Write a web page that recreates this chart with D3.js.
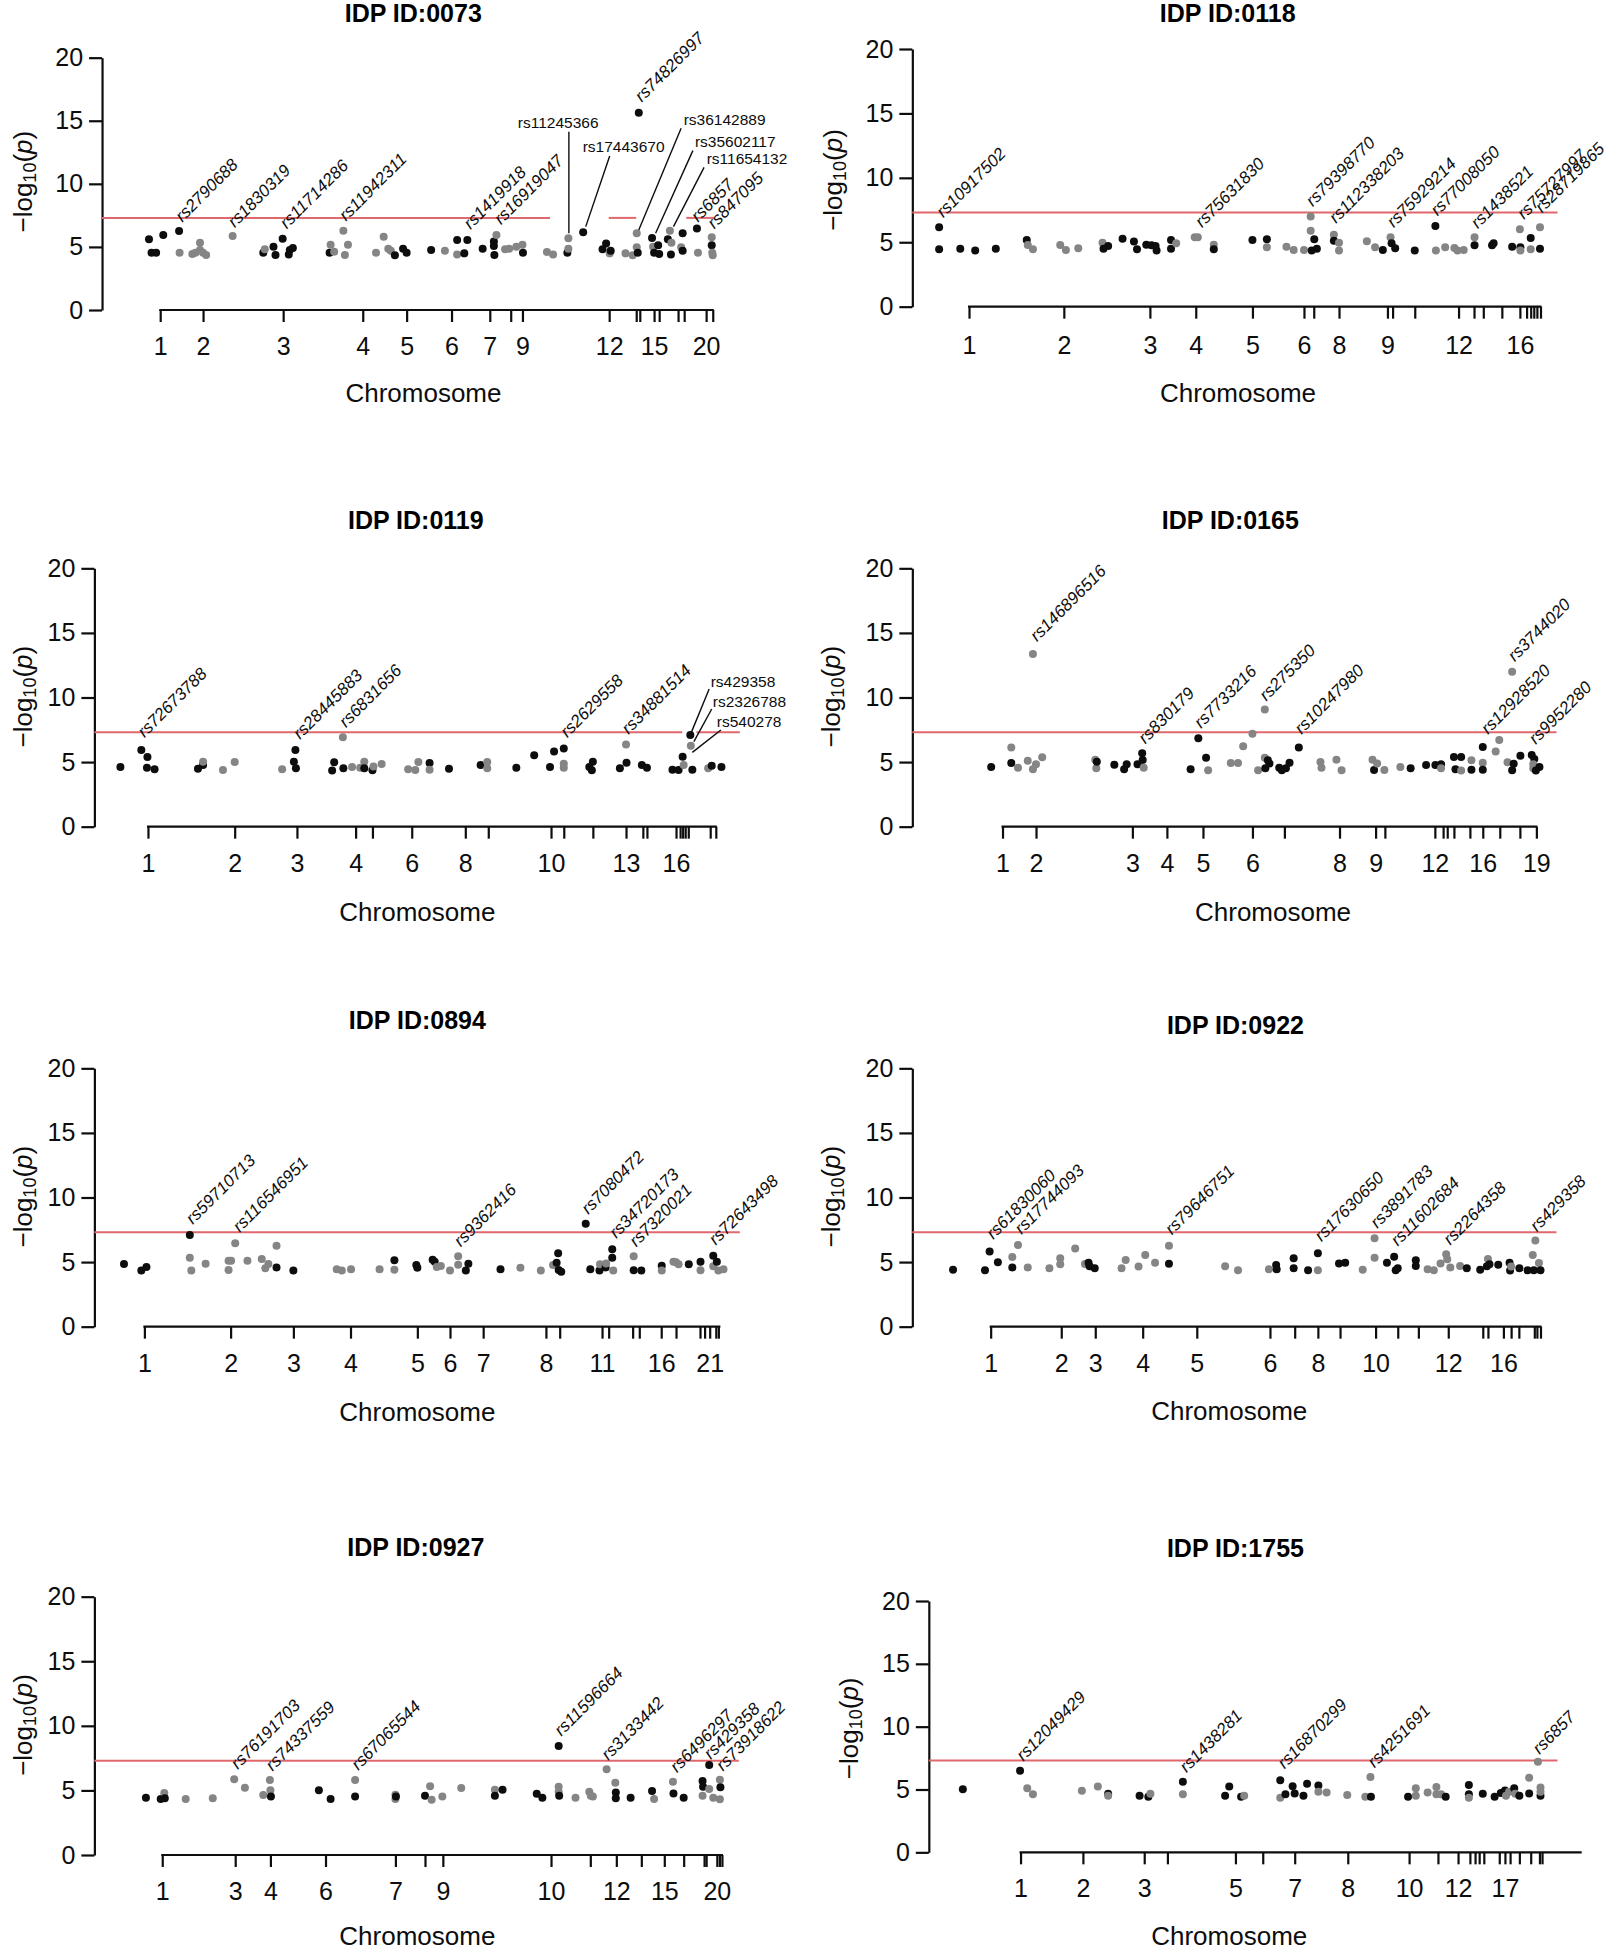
<!DOCTYPE html>
<html><head><meta charset="utf-8">
<script src="https://cdn.jsdelivr.net/npm/d3@7"></script>
<style>body{margin:0;background:#fff}svg{display:block;font-family:"Liberation Sans",Arial,sans-serif}</style>
</head><body><svg id="c" width="1608" height="1950"></svg>
<script>
// ---------- DATA (pos = cumulative genomic position index, val = -log10(p), c: 1 = odd/black chromosome, 0 = even/grey) ----------
const threshold = 7.30103; // -log10(5e-8)
const yTicks = [0, 5, 10, 15, 20];

const pts0073 = [[292,5.60,1],[297,4.54,1],[306,4.54,1],[320,5.94,1],[351,6.26,1],[352,4.54,0],[377,4.44,0],[383,4.54,0],[392,5.34,0],[392,4.76,0],[398,4.54,0],[404,4.36,0],[456,5.87,0],[516,4.54,1],[519,4.81,0],[536,5.02,1],[540,4.36,1],[554,5.65,1],[566,4.39,1],[568,4.76,1],[574,4.91,1],[646,4.54,1],[648,5.18,0],[655,4.62,0],[673,6.29,0],[676,4.36,0],[682,5.18,0],[737,4.54,0],[752,5.81,0],[761,4.86,0],[766,4.70,0],[774,4.33,1],[790,4.86,1],[797,4.54,1],[845,4.76,1],[872,4.70,0],[896,4.39,0],[896,5.55,1],[910,4.49,1],[916,5.55,1],[946,4.86,1],[968,5.42,1],[968,5.07,1],[969,4.36,1],[973,5.94,0],[990,4.81,0],[998,4.86,0],[1012,5.02,0],[1024,5.18,0],[1025,4.54,1],[1072,4.60,0],[1084,4.39,0],[1112,4.54,1],[1114,5.68,0],[1114,4.86,0],[1143,6.16,1],[1181,4.81,1],[1188,5.28,1],[1195,4.49,0],[1197,4.70,1],[1226,4.49,0],[1240,4.33,0],[1248,6.08,0],[1248,4.97,0],[1250,4.54,1],[1252,15.64,1],[1278,5.71,1],[1280,5.02,0],[1282,4.54,1],[1290,5.13,1],[1292,4.44,1],[1309,5.60,1],[1313,6.29,0],[1316,5.34,0],[1315,4.39,1],[1335,4.97,0],[1338,6.08,1],[1338,4.70,1],[1366,6.45,1],[1368,4.54,0],[1395,5.76,0],[1395,5.13,1],[1396,4.54,0],[1397,4.33,0]];
const ticks0073 = [[314,"1"],[398,"2"],[555,"3"],[711,"4"],[797,"5"],[885,"6"],[960,"7"],[1001,""],[1024,"9"],[1194,"12"],[1247,""],[1254,""],[1282,"15"],[1292,""],[1329,""],[1341,""],[1384,"20"],[1397,""]];
const labels0073 = [[357,6.92,"rs2790688"],[460,6.47,"rs1830319"],[562,6.39,"rs11714286"],[678,7.00,"rs11942311"],[922,6.34,"rs1419918"],[982,6.71,"rs16919047"],[1258,16.43,"rs74826997"],[1368,6.92,"rs6857"],[1400,6.39,"rs847095"]];
const leaders0073 = [[1015,14.40,1115,14.13,1115,6.08,"rs11245366"],[1142,12.55,1195,12.21,1148,6.61,"rs17443670"],[1340,14.66,1335,14.40,1252,6.34,"rs36142889"],[1362,12.89,1358,12.63,1285,6.08,"rs35602117"],[1385,11.57,1380,11.31,1320,6.61,"rs11654132"]];

const pts0118 = [[270,6.16,1],[270,4.45,1],[311,4.50,1],[340,4.35,1],[380,4.50,1],[440,5.17,1],[442,4.79,0],[452,4.45,0],[505,4.79,0],[516,4.40,0],[540,4.53,0],[587,4.97,0],[589,4.50,1],[598,4.71,1],[626,5.28,1],[648,5.05,1],[654,4.45,1],[672,4.81,1],[682,4.76,1],[690,4.71,1],[692,4.35,1],[720,5.17,1],[720,4.50,1],[730,4.92,0],[766,5.38,0],[772,5.38,0],[803,4.81,0],[803,4.45,1],[878,5.17,1],[906,5.23,1],[906,4.61,0],[944,4.66,0],[958,4.40,0],[978,4.40,0],[991,6.99,0],[991,5.90,0],[993,4.35,1],[998,5.23,1],[1003,4.50,1],[1036,5.59,0],[1036,5.12,1],[1046,4.97,0],[1046,4.35,0],[1100,5.07,0],[1116,4.61,0],[1131,4.40,1],[1146,5.38,0],[1148,4.92,1],[1155,4.53,1],[1193,4.35,1],[1233,6.26,1],[1234,4.35,0],[1252,4.61,0],[1270,4.55,0],[1276,4.35,0],[1288,4.40,0],[1309,5.38,0],[1309,4.76,1],[1343,4.76,1],[1346,4.92,1],[1382,4.66,1],[1397,6.00,0],[1398,4.61,1],[1398,4.35,0],[1418,5.33,1],[1418,4.45,0],[1436,6.16,0],[1436,4.50,1]];
const ticks0118 = [[328,"1"],[512,"2"],[679,"3"],[768,"4"],[878,"5"],[978,"6"],[997,""],[1046,"8"],[1140,"9"],[1150,""],[1193,""],[1278,"12"],[1308,""],[1326,""],[1362,""],[1397,"16"],[1410,""],[1418,""],[1424,""],[1430,""],[1437,""]];
const labels0118 = [[278,6.86,"rs10917502"],[780,6.08,"rs75631830"],[995,7.71,"rs79398770"],[1040,6.42,"rs112338203"],[1152,6.08,"rs75929214"],[1237,6.99,"rs77008050"],[1315,6.00,"rs1438521"],[1405,6.73,"rs75727997"],[1440,7.24,"rs28719865"]];
const leaders0118 = [];

const pts0119 = [[236,4.62,1],[277,5.94,1],[289,5.39,1],[288,4.57,1],[303,4.44,1],[388,4.49,1],[398,4.77,1],[398,5.03,0],[437,4.39,0],[460,5.01,0],[553,4.44,0],[576,5.03,1],[579,5.94,1],[580,4.52,1],[651,4.34,1],[655,4.98,1],[672,6.92,0],[673,4.52,1],[690,4.62,0],[706,4.57,0],[714,5.03,0],[714,4.52,1],[730,4.36,1],[732,4.65,0],[748,4.85,0],[800,4.44,0],[814,4.39,0],[820,5.01,0],[842,4.93,1],[842,4.41,0],[880,4.49,1],[942,4.77,1],[955,5.01,0],[955,4.52,0],[1012,4.57,1],[1047,5.52,1],[1078,4.62,1],[1086,5.81,1],[1105,6.06,1],[1105,4.88,0],[1105,4.57,0],[1155,4.62,1],[1162,5.03,1],[1160,4.36,1],[1215,4.52,1],[1227,6.37,0],[1228,4.95,1],[1258,4.77,1],[1268,4.57,1],[1318,4.41,1],[1330,4.39,1],[1338,5.42,1],[1340,4.77,0],[1353,7.10,1],[1354,6.27,0],[1357,4.41,1],[1388,4.52,0],[1395,4.72,1],[1414,4.62,1]];
const ticks0119 = [[290,"1"],[460,"2"],[582,"3"],[697,"4"],[730,""],[807,"6"],[912,"8"],[957,""],[1080,"10"],[1105,""],[1162,""],[1227,"13"],[1260,""],[1268,""],[1325,"16"],[1333,""],[1338,""],[1343,""],[1349,""],[1392,""],[1403,""]];
const labels0119 = [[283,6.84,"rs72673788"],[588,6.71,"rs28445883"],[678,7.61,"rs6831656"],[1112,6.84,"rs2629558"],[1232,7.10,"rs34881514"]];
const leaders0119 = [[1393,10.84,1390,10.66,1355,7.30,"rs429358"],[1397,9.29,1395,9.11,1360,6.58,"rs2326788"],[1405,7.74,1413,7.48,1357,5.75,"rs540278"]];

const pts0165 = [[371,4.62,1],[410,6.12,0],[410,4.93,1],[423,4.57,0],[442,5.11,0],[452,13.37,0],[452,4.44,0],[458,4.83,0],[470,5.37,0],[573,5.19,0],[575,4.52,0],[576,5.03,1],[610,4.80,1],[629,4.44,1],[634,4.83,1],[655,4.83,1],[664,5.68,1],[665,5.16,1],[667,4.57,0],[758,4.44,1],[773,6.84,1],[788,5.34,1],[792,4.36,0],[836,4.93,0],[850,4.93,0],[860,6.22,0],[878,7.20,0],[889,4.36,0],[902,9.08,0],[902,5.34,0],[903,4.52,1],[908,5.14,1],[911,4.90,1],[930,4.57,1],[935,4.36,1],[943,4.52,1],[950,4.95,1],[968,6.12,1],[1010,5.01,0],[1012,4.57,0],[1041,5.19,0],[1051,4.36,0],[1111,5.19,0],[1114,4.39,1],[1120,4.90,0],[1134,4.39,0],[1165,4.62,0],[1185,4.52,1],[1215,4.77,1],[1233,4.77,1],[1244,4.83,1],[1244,4.52,0],[1269,5.39,1],[1272,4.44,1],[1283,5.39,1],[1283,4.34,0],[1303,5.14,0],[1303,4.41,1],[1325,6.17,1],[1325,4.95,0],[1325,4.41,1],[1350,5.81,0],[1357,6.71,0],[1373,4.98,0],[1382,12.00,0],[1382,4.36,1],[1385,4.88,1],[1398,5.50,1],[1420,5.55,1],[1425,5.24,1],[1423,4.52,0],[1423,4.83,0],[1428,4.34,1],[1435,4.62,1]];
const ticks0165 = [[393,"1"],[458,"2"],[645,"3"],[712,"4"],[782,"5"],[878,"6"],[940,""],[1047,"8"],[1117,"9"],[1135,""],[1232,"12"],[1248,""],[1256,""],[1269,""],[1300,""],[1325,"16"],[1358,""],[1397,""],[1429,"19"]];
const labels0165 = [[460,14.27,"rs146896516"],[670,6.37,"rs830179"],[778,7.56,"rs7733216"],[905,9.68,"rs275350"],[973,7.10,"rs10247980"],[1387,12.72,"rs3744020"],[1335,7.10,"rs12928520"],[1428,6.32,"rs9952280"]];
const leaders0165 = [];

const pts0894 = [[243,4.85,1],[277,4.34,1],[287,4.62,1],[372,7.10,1],[372,5.34,0],[375,4.34,0],[403,4.88,0],[448,5.11,0],[448,4.39,0],[453,5.11,0],[461,6.45,0],[485,5.11,0],[513,5.24,0],[520,4.52,0],[526,4.85,0],[542,6.27,0],[542,4.59,1],[575,4.34,1],[660,4.44,0],[670,4.34,0],[688,4.44,0],[744,4.44,0],[773,5.14,1],[773,4.41,0],[816,4.77,1],[818,4.57,1],[848,5.19,1],[852,5.03,1],[856,4.62,0],[864,4.70,0],[882,4.34,0],[898,5.45,0],[898,4.80,0],[913,4.34,1],[918,4.88,1],[981,4.44,1],[1020,4.57,0],[1060,4.34,0],[1084,4.77,0],[1091,4.95,1],[1094,5.68,1],[1095,4.39,1],[1100,4.26,1],[1148,7.97,1],[1157,4.44,1],[1175,4.34,1],[1176,4.83,0],[1187,4.59,1],[1188,4.90,0],[1200,5.99,1],[1200,5.34,1],[1202,4.34,0],[1242,5.45,0],[1242,4.36,1],[1257,4.34,1],[1297,4.72,1],[1297,4.34,0],[1320,5.03,0],[1325,4.98,0],[1330,4.83,0],[1350,4.83,1],[1373,5.03,1],[1373,4.36,0],[1398,5.50,1],[1398,4.67,0],[1405,5.03,1],[1408,4.34,0],[1418,4.44,0]];
const ticks0894 = [[283,"1"],[452,"2"],[575,"3"],[687,"4"],[818,"5"],[882,"6"],[947,"7"],[1070,"8"],[1097,""],[1180,"11"],[1193,""],[1240,""],[1253,""],[1296,"16"],[1325,""],[1372,""],[1381,""],[1391,"21"],[1403,""],[1408,""]];
const labels0894 = [[378,7.87,"rs59710713"],[470,7.25,"rs116546951"],[903,6.12,"rs9362416"],[1153,8.65,"rs7080472"],[1208,6.79,"rs34720173"],[1247,6.12,"rs7320021"],[1403,6.27,"rs72643498"]];
const leaders0894 = [];

const pts0922 = [[297,4.41,1],[359,4.36,1],[368,5.81,1],[384,4.98,1],[412,5.39,0],[412,4.59,1],[423,6.32,0],[442,4.59,0],[484,4.52,0],[505,5.29,0],[505,4.83,0],[534,6.06,0],[553,4.85,0],[560,4.95,1],[562,4.67,1],[572,4.52,1],[624,4.52,0],[632,5.16,0],[657,4.65,0],[670,5.55,0],[689,4.95,0],[716,6.27,0],[716,4.88,1],[825,4.67,0],[850,4.36,0],[910,4.44,0],[924,4.77,1],[925,4.44,1],[958,5.29,1],[958,4.52,1],[986,4.36,1],[1005,5.68,1],[1005,4.36,0],[1046,4.90,1],[1058,4.95,1],[1092,4.41,0],[1115,6.84,0],[1115,5.34,0],[1139,4.95,1],[1153,5.42,1],[1156,4.36,1],[1160,4.52,1],[1195,5.14,1],[1195,4.70,1],[1218,4.44,0],[1230,4.36,0],[1243,4.90,0],[1254,5.60,0],[1256,5.21,0],[1262,4.59,0],[1281,4.70,0],[1294,4.52,1],[1320,4.41,1],[1333,4.67,1],[1335,5.24,0],[1338,4.83,1],[1355,4.80,1],[1377,4.95,1],[1378,4.34,1],[1380,4.65,0],[1396,4.52,1],[1412,4.36,1],[1422,5.55,0],[1424,4.36,1],[1427,6.68,0],[1434,4.93,0],[1437,4.36,1]];
const ticks0922 = [[370,"1"],[507,"2"],[573,"3"],[665,"4"],[770,"5"],[912,"6"],[960,""],[1005,"8"],[1048,""],[1117,"10"],[1160,""],[1200,""],[1258,"12"],[1325,""],[1335,""],[1365,"16"],[1380,""],[1395,""],[1425,""],[1430,""],[1437,""]];
const labels0922 = [[375,6.71,"rs61830060"],[430,7.10,"rs17744093"],[722,7.05,"rs79646751"],[1012,6.53,"rs17630650"],[1120,7.56,"rs3891783"],[1160,6.19,"rs11602684"],[1262,6.27,"rs2264358"],[1430,7.30,"rs429358"]];
const leaders0922 = [];

const pts0927 = [[286,4.44,1],[315,4.34,1],[322,4.80,0],[323,4.39,1],[364,4.34,0],[417,4.39,0],[459,5.86,0],[480,5.21,0],[516,4.65,0],[529,5.81,0],[530,5.01,0],[531,4.52,1],[625,5.01,1],[648,4.34,1],[696,5.81,0],[696,4.52,1],[775,4.67,0],[775,4.34,0],[776,4.52,1],[833,4.59,1],[843,5.32,0],[846,4.28,0],[867,4.52,0],[904,5.19,0],[970,5.06,0],[970,4.59,1],[985,5.06,1],[1052,4.75,1],[1063,4.44,1],[1095,8.44,1],[1095,5.29,0],[1095,4.90,0],[1096,4.59,1],[1128,4.44,0],[1155,4.90,0],[1158,4.59,0],[1162,4.52,0],[1189,6.63,0],[1206,5.60,0],[1207,4.83,1],[1207,4.39,1],[1236,4.44,1],[1278,4.95,1],[1282,4.34,0],[1319,5.68,0],[1320,4.77,1],[1340,4.44,1],[1377,5.73,1],[1378,5.29,1],[1377,4.59,0],[1390,6.97,1],[1390,5.11,0],[1398,4.44,0],[1411,5.83,0],[1412,5.24,1],[1411,4.31,0]];
const ticks0927 = [[318,"1"],[461,"3"],[530,"4"],[638,"6"],[775,"7"],[833,""],[868,"9"],[1080,"10"],[1157,""],[1208,"12"],[1257,""],[1302,"15"],[1340,""],[1380,""],[1384,""],[1405,"20"],[1410,""],[1415,""]];
const labels0927 = [[466,6.58,"rs76191703"],[534,6.45,"rs74337559"],[702,6.50,"rs67065544"],[1100,9.16,"rs11596664"],[1192,7.28,"rs3133442"],[1327,6.32,"rs6496297"],[1393,7.35,"rs429358"],[1417,6.45,"rs73918622"]];
const leaders0927 = [];

const pts1755 = [[316,5.01,1],[427,6.50,1],[441,5.09,0],[452,4.62,0],[547,4.91,0],[578,5.23,0],[598,4.67,1],[598,4.51,0],[659,4.51,1],[676,4.43,1],[680,4.67,0],[743,4.62,0],[743,5.62,1],[825,4.51,1],[833,5.23,1],[856,4.43,1],[862,4.51,0],[932,4.35,0],[932,5.73,1],[942,4.62,1],[956,5.25,1],[960,4.69,1],[977,4.51,1],[984,5.46,1],[1006,5.31,1],[1006,4.83,0],[1022,4.77,0],[1062,4.56,0],[1097,4.43,0],[1107,5.99,0],[1108,4.43,1],[1180,4.43,1],[1195,5.09,0],[1195,4.51,0],[1218,4.77,0],[1235,5.20,0],[1235,4.62,0],[1244,4.62,0],[1253,4.43,1],[1298,5.36,1],[1298,4.62,1],[1298,4.35,0],[1325,4.67,1],[1348,4.43,1],[1360,4.72,1],[1368,4.93,1],[1370,4.51,0],[1376,4.83,0],[1386,5.09,1],[1388,4.67,0],[1396,4.51,1],[1415,5.94,0],[1415,4.69,1],[1432,7.21,0],[1437,5.15,0],[1437,4.51,1],[1437,4.83,0]];
const ticks1755 = [[428,"1"],[549,"2"],[668,"3"],[713,""],[845,"5"],[898,""],[960,"7"],[1063,"8"],[1182,"10"],[1238,""],[1277,"12"],[1300,""],[1310,""],[1318,""],[1327,""],[1357,""],[1368,"17"],[1378,""],[1396,""],[1418,""],[1435,""],[1440,""]];
const labels1755 = [[433,7.21,"rs12049429"],[750,6.29,"rs1438281"],[940,6.60,"rs16870299"],[1115,6.68,"rs4251691"],[1435,7.75,"rs6857"]];
const leaders1755 = [];

// ---------- LAYOUT (panel frames) ----------
const PW = 1568, SY = 1/3;
const panels = [
  {id:"0073", pts:pts0073, ticks:ticks0073, labels:labels0073, leaders:leaders0073,
   L:{cx:0,cy:0,w:800,ax:200,y20:173,y0:930,xTo:1397,red:[[200,1078],[1193,1247],[1345,1400]],title:[810,38],ylab:[45,545],chrom:[830,1180],tl:1040}},
  {id:"0118", pts:pts0118, ticks:ticks0118, labels:labels0118, leaders:leaders0118,
   L:{cx:800,cy:0,w:808,ax:218,y20:147,y0:920,xTo:1437,red:[[218,1470]],title:[830,40],ylab:[65,540],chrom:[850,1180],tl:1035}},
  {id:"0119", pts:pts0119, ticks:ticks0119, labels:labels0119, leaders:leaders0119,
   L:{cx:0,cy:505,w:800,ax:185,y20:190,y0:965,xTo:1403,red:[[185,1337],[1365,1450]],title:[815,45],ylab:[45,575],chrom:[818,1220],tl:1075}},
  {id:"0165", pts:pts0165, ticks:ticks0165, labels:labels0165, leaders:leaders0165,
   L:{cx:800,cy:505,w:808,ax:218,y20:190,y0:965,xTo:1429,red:[[218,1468]],title:[835,45],ylab:[60,575],chrom:[918,1220],tl:1075}},
  {id:"0894", pts:pts0894, ticks:ticks0894, labels:labels0894, leaders:leaders0894,
   L:{cx:0,cy:1005,w:800,ax:185,y20:190,y0:965,xTo:1410,red:[[185,1450]],title:[818,45],ylab:[45,575],chrom:[818,1220],tl:1075}},
  {id:"0922", pts:pts0922, ticks:ticks0922, labels:labels0922, leaders:leaders0922,
   L:{cx:800,cy:1005,w:808,ax:218,y20:190,y0:965,xTo:1437,red:[[218,1468]],title:[845,60],ylab:[60,575],chrom:[833,1218],tl:1075}},
  {id:"0927", pts:pts0927, ticks:ticks0927, labels:labels0927, leaders:leaders0927,
   L:{cx:0,cy:1525,w:800,ax:185,y20:215,y0:990,xTo:1415,red:[[185,1448]],title:[815,65],ylab:[45,600],chrom:[818,1233],tl:1100}},
  {id:"1755", pts:pts1755, ticks:ticks1755, labels:labels1755, leaders:leaders1755,
   L:{cx:800,cy:1525,w:808,ax:250,y20:228,y0:982,xTo:1515,red:[[250,1470]],title:[845,70],ylab:[95,610],chrom:[833,1233],tl:1090}}
];

const svg = d3.select("#c");
svg.append("rect").attr("width",1608).attr("height",1950).attr("fill","#fff");
const BLACK = "#0d0d0d", GREY = "#858585", RED = "#e0676c";
const FONT = '"Liberation Sans",Arial,sans-serif';

panels.forEach(p => {
  const L = p.L;
  const x = d3.scaleLinear().domain([0, PW]).range([L.cx, L.cx + L.w]);
  const y = d3.scaleLinear().domain([0, 20]).range([L.cy + L.y0*SY, L.cy + L.y20*SY]);
  const g = svg.append("g");
  const fy = v => L.cy + v*SY;

  // title
  g.append("text").attr("x", x(L.title[0])).attr("y", fy(L.title[1]))
    .attr("text-anchor","middle").attr("dominant-baseline","central")
    .attr("font-weight","bold").attr("font-size",25).text("IDP ID:" + p.id);

  // y axis
  const yAxis = d3.axisLeft(y).tickValues(yTicks).tickSize(13).tickSizeOuter(0).tickPadding(6);
  const ya = g.append("g").attr("transform", `translate(${x(L.ax)},0)`).call(yAxis);
  ya.selectAll("path,line").attr("stroke", BLACK).attr("stroke-width", 2.2);
  ya.selectAll("text").attr("font-size", 25).attr("fill", BLACK).attr("font-family", FONT);

  // y label
  const yl = g.append("text").attr("transform", `translate(${x(L.ylab[0])},${fy(L.ylab[1])}) rotate(-90)`)
    .attr("text-anchor","middle").attr("dominant-baseline","central").attr("font-size",26).attr("fill",BLACK);
  yl.append("tspan").text("\u2212log");
  yl.append("tspan").attr("font-size",18).attr("dy",7).text("10");
  yl.append("tspan").attr("dy",-7).text("(");
  yl.append("tspan").attr("font-style","italic").text("p");
  yl.append("tspan").text(")");

  // x axis (chromosome centres)
  const xAxis = d3.axisBottom(x).tickValues(p.ticks.map(d => d[0]))
    .tickFormat((d,i) => p.ticks[i][1]).tickSize(12).tickSizeOuter(0);
  const xa = g.append("g").attr("transform", `translate(0,${y(0)})`).call(xAxis);
  xa.select(".domain").remove();
  xa.selectAll("line").attr("stroke", BLACK).attr("stroke-width", 2.2);
  xa.selectAll("text").attr("font-size", 25).attr("fill", BLACK).attr("font-family", FONT)
    .attr("y", (L.tl - L.y0)*SY).attr("dy","0.35em");
  g.append("line").attr("x1", x(p.ticks[0][0]) - 1).attr("x2", x(L.xTo) + 1)
    .attr("y1", y(0)).attr("y2", y(0)).attr("stroke", BLACK).attr("stroke-width", 2.2);

  g.append("text").attr("x", x(L.chrom[0])).attr("y", fy(L.chrom[1]))
    .attr("text-anchor","middle").attr("dominant-baseline","central")
    .attr("font-size",26).attr("fill",BLACK).text("Chromosome");

  // genome-wide significance line
  g.selectAll(".thr").data(L.red).join("line")
    .attr("x1", d => x(d[0])).attr("x2", d => x(d[1]))
    .attr("y1", y(threshold)).attr("y2", y(threshold))
    .attr("stroke", RED).attr("stroke-width", 2);

  // points
  g.selectAll("circle").data(p.pts).join("circle")
    .attr("cx", d => x(d[0])).attr("cy", d => y(d[1])).attr("r", 4)
    .attr("fill", d => d[2] ? BLACK : GREY);

  // rotated SNP labels
  g.selectAll(".lab").data(p.labels).join("text")
    .attr("transform", d => `translate(${x(d[0])},${y(d[1])}) rotate(-45)`)
    .attr("font-size",17).attr("font-style","italic").attr("fill",BLACK).text(d => d[2]);

  // leader-line labels
  g.selectAll(".ldl").data(p.leaders).join("line")
    .attr("x1", d => x(d[2])).attr("y1", d => y(d[3]))
    .attr("x2", d => x(d[4])).attr("y2", d => y(d[5]))
    .attr("stroke", BLACK).attr("stroke-width", 1.4);
  g.selectAll(".ldt").data(p.leaders).join("text")
    .attr("x", d => x(d[0])).attr("y", d => y(d[1]))
    .attr("font-size",15.5).attr("fill",BLACK).text(d => d[6]);
});
</script></body></html>
